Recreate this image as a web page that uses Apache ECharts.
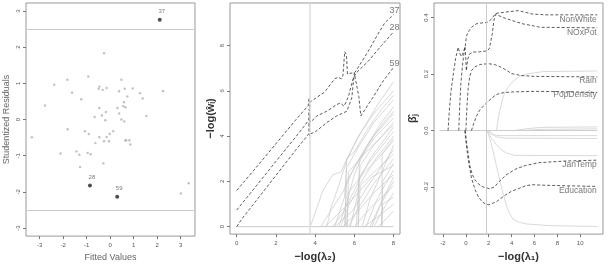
<!DOCTYPE html>
<html>
<head>
<meta charset="utf-8">
<script src="https://cdn.jsdelivr.net/npm/echarts@6/dist/echarts.min.js"></script>
<style>
html, body { margin: 0; padding: 0; background: #fff; }
#main { width: 608px; height: 267px; }
</style>
</head>
<body>
<div id="main"></div>
<script>
// ---- panel 1 : studentized residuals vs fitted values
var fittedX = [-0.26, -0.93, -1.82, -2.38, 0.48, -0.46, -0.49, -0.32, -0.15, 0.62, 0.96, 0.38, -1.62, 1.27, 2.25,
    0.73, -1.23, 1.38, 0.59, -2.77, -0.46, 0.31, 0.56, 0.65, -0.18, 0.38, -0.35, -0.66, 1.54, -0.21, 0.48, 0.60,
    -1.81, -1.07, -0.91, 0.13, -0.02, -3.33, -0.46, -0.15, -0.26, -0.05, -0.63, 0.65, 0.68, 0.82, 0.86, -1.43,
    -2.11, -1.31, -0.96, -0.83, -0.29, -1.28, 3.34, 3.01];
var residY = [1.83, 1.19, 1.10, 0.96, 1.10, 0.91, 0.85, 0.82, 0.87, 0.85, 0.86, 0.78, 0.74, 0.73, 0.79,
    0.64, 0.56, 0.58, 0.48, 0.39, 0.32, 0.32, 0.37, 0.34, 0.21, 0.17, 0.11, 0.07, 0.10, -0.02, 0.0, -0.05,
    -0.27, -0.32, -0.40, -0.32, -0.40, -0.49, -0.49, -0.48, -0.60, -0.60, -0.65, -0.58, -0.57, -0.57, -0.69, -0.88,
    -0.94, -0.97, -0.92, -0.96, -1.21, -1.31, -1.76, -2.04];
var outlierIds = ['37', '28', '59'];
var outlierX = [2.11, -0.86, 0.30];
var outlierY = [2.76, -1.82, -2.13];
var residTicks = [-3, -2, -1, 0, 1, 2, 3];
var fittedTicks = [-3, -2, -1, 0, 1, 2, 3];

// ---- panel 2 : -log(w_i) paths vs -log(lambda2)
var lambda2Ticks = [0, 2, 4, 6, 8];
var weightTicks = [0, 2, 4, 6, 8];
var path37 = [[0, 1.6], [1, 2.62], [2, 3.66], [3, 4.7], [3.65, 5.35], [3.7, 5.68], [3.72, 5.1], [3.74, 5.5],
    [3.81, 5.48], [4.49, 5.95], [5.0, 6.53], [5.17, 6.6], [5.34, 6.53], [5.42, 6.67], [5.51, 7.73], [5.6, 7.59],
    [5.65, 6.74], [5.77, 6.77], [6.03, 6.81], [6.7, 7.73], [7.2, 8.5], [7.55, 9.0], [8, 9.37]];
var path28 = [[0, 0.73], [1, 1.8], [2, 2.88], [3, 3.95], [3.68, 4.7], [3.7, 5.2], [3.71, 4.4], [3.73, 5.0],
    [3.75, 4.6], [4.09, 4.89], [4.6, 5.1], [5.1, 5.39], [5.28, 5.46], [5.48, 5.32], [5.7, 5.75], [5.96, 6.6],
    [6.13, 6.82], [6.7, 7.3], [7.38, 8.0], [8, 8.6]];
var path59 = [[0, 0], [0.3, 0.38], [1, 1.15], [2, 2.26], [3, 3.37], [3.68, 4.1], [3.7, 4.6], [3.72, 4.0],
    [3.76, 4.1], [4.0, 4.18], [4.6, 4.6], [5.1, 4.89], [5.62, 5.1], [5.87, 5.68], [6.0, 6.78], [6.09, 6.72],
    [6.23, 5.75], [6.33, 4.89], [6.55, 5.18], [6.98, 5.75], [7.49, 6.46], [8, 7.03]];
var weightIds = ['37', '28', '59'];
var grayPaths = [
    [[3.75, 0], [4.0, 0.6], [4.4, 1.6], [4.9, 2.3], [5.3, 2.4], [5.8, 3.3], [6.5, 4.4], [7.2, 5.4], [8, 6.4]],
    [[4.6, 0], [4.8, 0.8], [5.2, 1.8], [5.6, 2.9], [6.2, 4.0], [7.0, 5.0], [8, 6.0]],
    [[5.0, 0], [5.5, 1.3], [5.6, 2.6], [6.2, 3.5], [7.0, 4.6], [8, 5.6]],
    [[5.2, 0], [5.6, 1.0], [6.0, 2.3], [6.6, 3.5], [7.3, 4.5], [8, 5.3]],
    [[4.3, 0], [4.8, 0.7], [5.4, 1.5], [6.1, 2.8], [7.0, 4.0], [8, 5.0]],
    [[5.5, 0], [5.6, 2.0], [6.3, 3.0], [7.0, 3.9], [8, 4.8]],
    [[5.8, 0], [6.2, 1.5], [6.3, 2.7], [7.0, 3.6], [8, 4.6]],
    [[4.9, 0], [5.4, 0.6], [6.0, 1.6], [6.8, 3.0], [8, 4.4]],
    [[6.1, 0], [6.25, 2.2], [6.9, 3.0], [8, 4.2]],
    [[5.3, 0], [5.7, 0.9], [6.3, 1.9], [7.1, 3.0], [8, 4.0]],
    [[5.6, 0], [5.7, 1.5], [6.4, 2.3], [7.2, 3.0], [8, 3.8]],
    [[6.4, 0], [6.8, 1.2], [7.4, 2.4], [8, 3.6]],
    [[5.0, 0], [5.9, 0.7], [6.7, 1.8], [7.5, 2.8], [8, 3.4]],
    [[6.2, 0], [6.3, 1.8], [7.0, 2.4], [8, 3.2]],
    [[5.7, 0], [6.2, 0.8], [7.0, 1.9], [8, 3.0]],
    [[7.4, 0], [7.45, 2.0], [8, 2.8]],
    [[6.6, 0], [7.1, 1.1], [7.6, 1.9], [8, 2.5]],
    [[5.4, 0], [6.0, 0.5], [7.0, 1.5], [8, 2.3]],
    [[6.9, 0], [7.3, 0.9], [8, 2.0]],
    [[6.0, 0], [6.8, 0.8], [8, 1.8]],
    [[7.0, 0], [7.5, 0.8], [8, 1.5]],
    [[7.4, 0], [7.45, 1.0], [8, 1.3]],
    [[6.5, 0], [7.3, 0.5], [8, 1.0]],
    [[7.2, 0], [7.7, 0.4], [8, 0.7]],
    [[5.55, 0], [5.6, 3.0], [6.0, 3.3], [6.6, 4.2], [7.4, 5.2], [8, 5.8]],
    [[6.2, 0], [6.25, 3.0], [6.8, 3.8], [7.5, 4.6], [8, 5.1]],
    [[7.4, 0], [7.42, 3.2], [8, 3.9]],
    [[5.65, 0], [5.7, 2.4], [6.5, 3.2], [8, 4.5]],
    [[4.5, 0], [5.1, 0.5], [5.9, 1.2], [6.9, 2.2], [8, 2.7]],
    [[6.8, 0], [7.5, 1.3], [8, 2.2]]
];
var lambda2Cut = 3.74;

// ---- panel 3 : coefficient paths vs -log(lambda1)
var lambda1Ticks = [-2, 0, 2, 4, 6, 8, 10];
var betaTicks = [-0.2, 0, 0.2, 0.4];
var betaNames = ['NonWhite', 'NOxPot', 'Rain', 'PopDensity', 'JanTemp', 'Education'];
var betaPaths = [
    [[-1.56, 0], [-1.45, 0.07], [-1.3, 0.14], [-1.1, 0.2], [-0.9, 0.255], [-0.68, 0.295], [-0.5, 0.27], [-0.4, 0.262],
        [-0.2, 0.28], [-0.05, 0.3], [0.05, 0.335], [0.3, 0.355], [0.5, 0.366], [0.9, 0.378], [1.3, 0.381], [1.86, 0.383],
        [2.24, 0.395], [2.6, 0.415], [3.5, 0.42], [4.6, 0.425], [5.8, 0.413], [7, 0.41], [11.5, 0.41]],
    [[-0.62, 0], [-0.55, 0.08], [-0.45, 0.16], [-0.3, 0.23], [-0.15, 0.28], [-0.08, 0.298], [0.0, 0.25], [0.04, 0.212],
        [0.15, 0.25], [0.3, 0.27], [0.6, 0.278], [1.2, 0.279], [1.8, 0.282], [2.05, 0.29], [2.3, 0.34], [2.45, 0.39],
        [2.6, 0.412], [3.3, 0.4], [4.1, 0.389], [5.0, 0.378], [5.9, 0.371], [6.5, 0.366], [11.5, 0.364]],
    [[0.0, 0], [0.1, 0.09], [0.2, 0.15], [0.33, 0.19], [0.5, 0.213], [0.8, 0.226], [1.25, 0.234], [1.95, 0.237],
        [2.5, 0.234], [2.9, 0.228], [3.5, 0.215], [4.0, 0.202], [4.8, 0.195], [6.0, 0.192], [11.5, 0.19]],
    [[0.49, 0], [0.6, 0.015], [0.93, 0.051], [1.2, 0.072], [1.51, 0.086], [2.1, 0.109], [2.6, 0.126], [2.97, 0.132],
        [3.5, 0.135], [4.14, 0.137], [6, 0.139], [8, 0.138], [11.5, 0.135]],
    [[-0.05, 0], [0.05, -0.04], [0.19, -0.08], [0.35, -0.125], [0.55, -0.155], [0.8, -0.175], [1.1, -0.189], [1.5, -0.2],
        [2.1, -0.206], [2.5, -0.2], [2.86, -0.183], [3.5, -0.158], [4.32, -0.137], [5.2, -0.124], [6.37, -0.114],
        [8.7, -0.108], [11.5, -0.105]],
    [[-0.1, 0], [-0.07, -0.01], [0.1, -0.07], [0.23, -0.109], [0.5, -0.17], [0.81, -0.21], [1.1, -0.235], [1.39, -0.251],
        [1.7, -0.26], [1.98, -0.263], [2.35, -0.258], [2.71, -0.251], [3.44, -0.229], [4.0, -0.215], [4.61, -0.206],
        [5.2, -0.196], [5.78, -0.192], [6.95, -0.194], [11.5, -0.198]]
];
var betaLabelX = 11.45;
var betaLabelY = [0.392, 0.346, 0.176, 0.127, -0.12, -0.214];
var betaGrayPaths = [
    [[2.68, 0], [2.9, 0.06], [3.26, 0.12], [3.7, 0.155], [4.14, 0.175], [4.7, 0.192], [5.3, 0.2], [6.8, 0.209], [11.5, 0.211]],
    [[1.86, 0], [2.1, -0.03], [2.39, -0.074], [2.7, -0.13], [2.97, -0.177], [3.3, -0.23], [3.56, -0.268], [3.85, -0.295],
        [4.14, -0.314], [4.7, -0.326], [5.3, -0.331], [7.3, -0.337], [11.5, -0.34]],
    [[1.86, 0], [2.2, -0.025], [2.68, -0.051], [3.1, -0.068], [3.56, -0.08], [4.3, -0.088], [11.5, -0.089]],
    [[1.9, 0], [2.3, -0.015], [3, -0.018], [11.5, -0.018]],
    [[2.0, 0], [2.6, -0.022], [3.5, -0.027], [11.5, -0.028]],
    [[4.3, 0], [5.2, 0.006], [6.5, 0.011], [11.5, 0.013]],
    [[5.0, 0], [6.5, 0.004], [11.5, 0.006]]
];
var lambda1Cut = 1.8;
var lambda1Span = [-2.3, 11.5];

var chart = echarts.init(document.getElementById('main'));
var FONT = 'Liberation Sans, Arial, sans-serif';

function makeX(gridIndex, min, max, ticks, name, nameStyle, nameGap) {
    return {
        type: 'value', gridIndex: gridIndex, min: min, max: max,
        name: name, nameLocation: 'middle', nameGap: nameGap, nameTextStyle: nameStyle,
        axisLine: {show: false, onZero: false},
        splitLine: {show: false},
        axisTick: {show: true, length: 3, customValues: ticks, lineStyle: {color: '#777'}},
        axisLabel: {customValues: ticks, fontSize: 6, color: '#555', margin: 6, fontFamily: FONT}
    };
}

function makeY(gridIndex, min, max, ticks, name, nameStyle, nameGap, fmt) {
    return {
        type: 'value', gridIndex: gridIndex, min: min, max: max,
        name: name, nameLocation: 'middle', nameGap: nameGap, nameRotate: 90, nameTextStyle: nameStyle,
        axisLine: {show: false, onZero: false},
        splitLine: {show: false},
        axisTick: {show: true, length: 3, customValues: ticks, lineStyle: {color: '#777'}},
        axisLabel: {customValues: ticks, fontSize: 6, color: '#555', margin: 5, rotate: 90, fontFamily: FONT,
            formatter: fmt}
    };
}

var lightName = {fontSize: 9, color: '#666', fontFamily: FONT};
var boldName = {fontSize: 11, color: '#333', fontWeight: 'bold', fontFamily: FONT};

var series = [];

// panel 1
var residPts = [];
for (var i = 0; i < fittedX.length; i++) residPts.push([fittedX[i], residY[i]]);
var outPts = [];
for (var j = 0; j < outlierX.length; j++) outPts.push({value: [outlierX[j], outlierY[j]], name: outlierIds[j]});
series.push({
    type: 'scatter', xAxisIndex: 0, yAxisIndex: 0, data: residPts, symbol: 'circle', symbolSize: 2.4,
    itemStyle: {color: '#b0b0b0'},
    markLine: {
        silent: true, symbol: 'none', label: {show: false},
        lineStyle: {color: '#ccc', type: 'solid', width: 1},
        data: [{yAxis: 2.5}, {yAxis: -2.5}]
    }
});
series.push({
    type: 'scatter', xAxisIndex: 0, yAxisIndex: 0, data: outPts, symbol: 'circle', symbolSize: 4,
    itemStyle: {color: '#222'},
    label: {show: true, position: 'top', distance: 3, offset: [2, 0], formatter: '{b}', fontSize: 6,
        color: '#555', fontFamily: FONT}
});

// panel 2
for (var g = 0; g < grayPaths.length; g++) {
    series.push({
        type: 'line', xAxisIndex: 1, yAxisIndex: 1, data: grayPaths[g], showSymbol: false,
        lineStyle: {color: '#c8c8c8', width: 0.7}, z: 1
    });
}
series.push({
    type: 'line', xAxisIndex: 1, yAxisIndex: 1, data: [[lambda2Ticks[0], 0], [lambda2Ticks[lambda2Ticks.length - 1], 0]],
    showSymbol: false, lineStyle: {color: '#ccc', width: 1}, z: 1,
    markLine: {
        silent: true, symbol: 'none', label: {show: false},
        lineStyle: {color: '#ddd', type: 'solid', width: 1.5},
        data: [{xAxis: lambda2Cut}]
    }
});
var wPaths = [path37, path28, path59];
var wEnds = [];
for (var k = 0; k < wPaths.length; k++) {
    series.push({
        type: 'line', xAxisIndex: 1, yAxisIndex: 1, data: wPaths[k], showSymbol: false,
        lineStyle: {color: '#333', width: 0.8, type: [3, 2]}, z: 3
    });
    var last = wPaths[k][wPaths[k].length - 1];
    wEnds.push({value: last, name: weightIds[k]});
}
series.push({
    type: 'scatter', xAxisIndex: 1, yAxisIndex: 1, data: wEnds, symbolSize: 0,
    label: {show: true, position: 'inside', offset: [1, -4], formatter: '{b}', fontSize: 9,
        color: '#555', fontFamily: FONT}
});

// panel 3
for (var b = 0; b < betaGrayPaths.length; b++) {
    series.push({
        type: 'line', xAxisIndex: 2, yAxisIndex: 2, data: betaGrayPaths[b], showSymbol: false,
        lineStyle: {color: '#cfcfcf', width: 0.8}, z: 1
    });
}
series.push({
    type: 'line', xAxisIndex: 2, yAxisIndex: 2, data: [[lambda1Span[0], 0], [lambda1Span[1], 0]],
    showSymbol: false, lineStyle: {color: '#ccc', width: 1}, z: 1,
    markLine: {
        silent: true, symbol: 'none', label: {show: false},
        lineStyle: {color: '#ccc', type: 'solid', width: 1},
        data: [{xAxis: lambda1Cut}]
    }
});
var betaLabs = [];
for (var m = 0; m < betaPaths.length; m++) {
    series.push({
        type: 'line', xAxisIndex: 2, yAxisIndex: 2, data: betaPaths[m], showSymbol: false,
        lineStyle: {color: '#333', width: 0.8, type: [3, 2]}, z: 3
    });
    betaLabs.push({value: [betaLabelX, betaLabelY[m]], name: betaNames[m]});
}
series.push({
    type: 'scatter', xAxisIndex: 2, yAxisIndex: 2, data: betaLabs, symbolSize: 0, z: 5,
    label: {show: true, position: 'inside', align: 'right', formatter: '{b}', fontSize: 8.5,
        color: '#555', fontFamily: FONT}
});

var option = {
    animation: false,
    backgroundColor: '#fff',
    grid: [
        {left: 26, top: 3, width: 169, height: 239, show: true, borderColor: '#999', borderWidth: 1},
        {left: 230, top: 3, width: 170, height: 239, show: true, borderColor: '#999', borderWidth: 1},
        {left: 434, top: 3, width: 169, height: 239, show: true, borderColor: '#999', borderWidth: 1}
    ],
    xAxis: [
        makeX(0, -3.58, 3.61, fittedTicks, 'Fitted Values', lightName, 15),
        makeX(1, -0.34, 8.33, lambda2Ticks, '\u2212log(\u03bb\u2082)', boldName, 10),
        makeX(2, -2.79, 12.0, lambda1Ticks, '\u2212log(\u03bb\u2081)', boldName, 9)
    ],
    yAxis: [
        makeY(0, -3.22, 3.22, residTicks, 'Studentized Residuals', lightName, 15),
        makeY(1, -0.33, 9.88, weightTicks, '\u2212log(w\u0302\u1d62)', boldName, 14),
        makeY(2, -0.367, 0.452, betaTicks, '\u03b2\u0302\u2c7c', boldName, 16, function (v) {
            return v.toFixed(1);
        })
    ],
    series: series
};
chart.setOption(option);
</script>
</body>
</html>
